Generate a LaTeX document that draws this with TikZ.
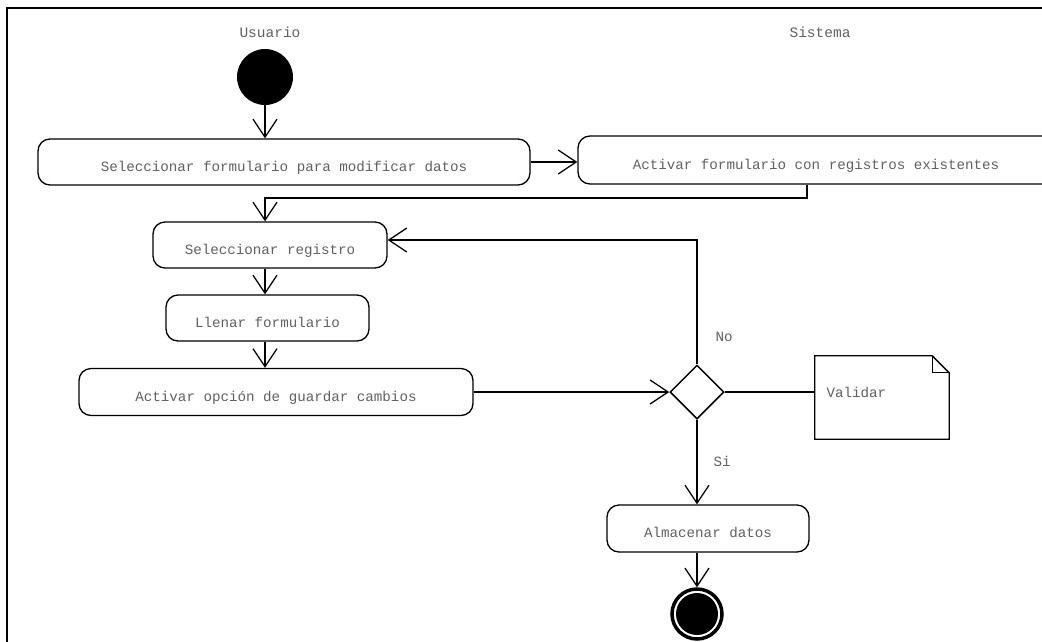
\documentclass[tikz,border=0pt]{standalone}
\usepackage{fontspec}
\setmonofont{Liberation Mono}
\usetikzlibrary{arrows.meta,shapes.geometric}

\begin{document}
\begin{tikzpicture}[x=1pt,y=-1pt,
  txt/.style={font=\fontsize{14.2}{16}\selectfont\ttfamily, text=black!62},
  head/.style={font=\fontsize{14.5}{16}\selectfont\ttfamily, text=black!62},
  act/.style={draw, line width=1.3pt, rounded corners=12pt, inner sep=0pt,
              txt, text height=20pt, text depth=2pt},
  flow/.style={line width=1.3pt,
               -{Straight Barb[length=18pt,width=24pt,line width=1.3pt]}},
  plain/.style={line width=1.3pt},
]
\path[use as bounding box] (0,0) rectangle (1042,641);
\clip (0,0) rectangle (1042,641);

% swimlane frame
\draw[line width=2pt] (7,645) -- (7,8) -- (1045,8);

% lane headers
\node[head] (lu) at (270,32) {Usuario};
\node[head] (ls) at (820,32) {Sistema};

% start node
\node[circle, fill=black, minimum size=56pt, inner sep=0pt] (start) at (265,77) {};

% activities
\node[act, minimum width=492pt, minimum height=46pt] (b1) at (284,162)
  {Seleccionar formulario para modificar datos};
\node[act, minimum width=476pt, minimum height=48pt] (b2) at (816,160)
  {Activar formulario con registros existentes};
\node[act, minimum width=234pt, minimum height=46pt] (b3) at (270,245)
  {Seleccionar registro};
\node[act, minimum width=203pt, minimum height=46pt] (b4) at (267.5,318)
  {Llenar formulario};
\node[act, minimum width=394pt, minimum height=47pt] (b5) at (276,392)
  {Activar opción de guardar cambios};
\node[act, minimum width=202pt, minimum height=47pt] (b6) at (708,528.5)
  {Almacenar datos};

% decision
\node[diamond, draw, line width=1.5pt, aspect=1, minimum width=54pt,
      minimum height=54pt, inner sep=0pt] (dec) at (697,392) {};

% note
\node[minimum width=134pt, minimum height=83pt, inner sep=0pt] (note) at (882,397.5) {};
\draw[line width=1.3pt]
  (note.north west) -- ([xshift=-17pt]note.north east)
  -- ([yshift=-17pt]note.north east) -- (note.south east)
  -- (note.south west) -- cycle;
\draw[line width=1.3pt]
  ([xshift=-17pt]note.north east) -- ([xshift=-17pt,yshift=-17pt]note.north east)
  -- ([yshift=-17pt]note.north east);
\node[txt, anchor=base west] (vt) at (823,397) {Validar};

% final node
\node[circle, draw, line width=3.5pt, minimum size=50pt, inner sep=0pt] (fin) at (697,614) {};
\fill (fin.center) circle (21pt);

% flows
\coordinate (j1) at (807,198);
\coordinate (j2) at (697,240);
\draw[flow] (start) -- (start |- b1.north);
\draw[flow] (b1.east) -- (b1.east -| b2.west);
\draw[flow] (b2.south -| j1) -- (j1) -- (j1 -| start) -- (start |- b3.north);
\draw[flow] (b3.south -| start) -- (start |- b4.north);
\draw[flow] (b4.south -| start) -- (start |- b5.north);
\draw[flow] (b5.east) -- (dec.west);
\draw[flow] (dec.north) -- (j2) -- (j2 -| b3.east);
\draw[plain] (dec.east) -- (dec.east -| note.west);
\draw[flow] (dec.south) -- (dec.south |- b6.north);
\draw[flow] (b6.south -| fin) -- (fin.north);

% guard labels
\node[txt, anchor=base west] (gno) at (712,341) {No};
\node[txt, anchor=base west] (gsi) at (710,466) {Si};
\end{tikzpicture}
\end{document}
